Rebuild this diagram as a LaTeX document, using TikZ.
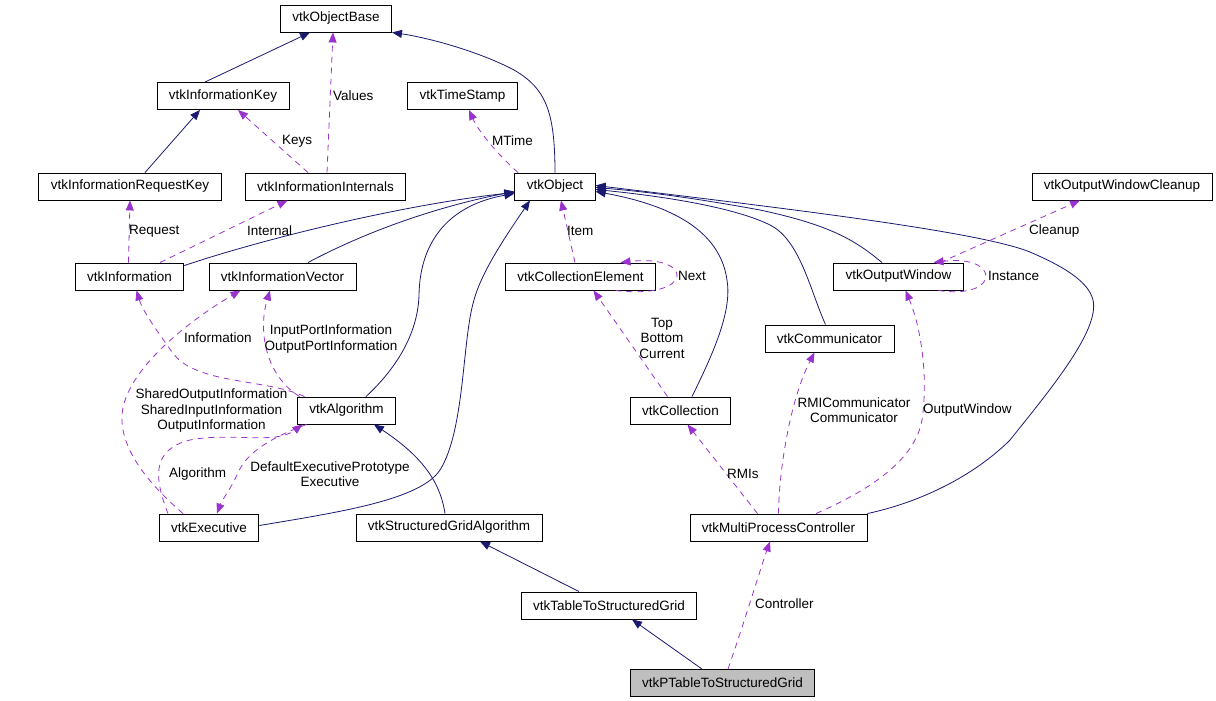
\documentclass[tikz,border=0pt]{standalone}
\usepackage{fontspec}
\setmainfont{Liberation Sans}
\usetikzlibrary{arrows.meta}
\definecolor{inhblue}{HTML}{191970}
\definecolor{usepurple}{HTML}{9A32CD}
\definecolor{selgray}{HTML}{BFBFBF}
\tikzset{class node/.style={rectangle,draw,line width=0.9pt,minimum height=27pt,inner xsep=12pt,inner ysep=0pt,fill=white},
inherit/.style={draw=inhblue,line width=0.8pt,-{Triangle[length=10pt,width=8pt]}},
member/.style={draw=usepurple,line width=0.8pt,dash pattern=on 6pt off 5pt,-{Triangle[length=10pt,width=8pt]}},
label node/.style={align=center,inner sep=0pt},
}

\begin{document}
\begin{tikzpicture}[x=1pt,y=-1pt,font=\fontsize{13.5}{15.5}\selectfont]
	\useasboundingbox (0,0) rectangle (1216,701);
	\node[class node,fill=selgray] (1) at (722.5,683) {vtkPTableToStructuredGrid};
	\node[class node] (2) at (609,605.5) {vtkTableToStructuredGrid};
	\node[class node] (3) at (449,527.5) {vtkStructuredGridAlgorithm};
	\node[class node] (4) at (346.5,410.5) {vtkAlgorithm};
	\node[class node] (5) at (555,186.5) {vtkObject};
	\node[class node] (6) at (336,18.5) {vtkObjectBase};
	\node[class node] (7) at (462.5,96) {vtkTimeStamp};
	\node[class node] (8) at (209,527.5) {vtkExecutive};
	\node[class node] (9) at (282.5,276.5) {vtkInformationVector};
	\node[class node] (10) at (129.5,276.5) {vtkInformation};
	\node[class node] (11) at (130,186.5) {vtkInformationRequestKey};
	\node[class node] (12) at (223,96) {vtkInformationKey};
	\node[class node] (13) at (325.5,186.5) {vtkInformationInternals};
	\node[class node] (14) at (778.5,527.5) {vtkMultiProcessController};
	\node[class node] (15) at (680.5,410.5) {vtkCollection};
	\node[class node] (16) at (580.5,276.5) {vtkCollectionElement};
	\node[class node] (17) at (829.5,338.5) {vtkCommunicator};
	\node[class node] (18) at (898.5,276.5) {vtkOutputWindow};
	\node[class node] (19) at (1122,186.5) {vtkOutputWindowCleanup};

	\draw[inherit] ([xshift=-20.5pt]1.north) -- ([xshift=23pt]2.south);
	\draw[inherit] ([xshift=-30pt]2.north) -- ([xshift=31pt]3.south);
	\draw[inherit] ([xshift=-4pt]3.north) .. controls (440,480) and (420,455) .. ([xshift=27.5pt]4.south);
	\draw[inherit] ([xshift=19.5pt]4.north) .. controls (400,365) and (418,330) .. (419,295) .. controls (420,240) and (450,205) .. ([yshift=-7pt]5.west);
	\draw[inherit] ([yshift=-3pt]10.north east) .. controls (260,240) and (400,205) .. ([yshift=-6pt]5.west);
	\draw[inherit] ([xshift=25.5pt]9.north) .. controls (350,240) and (420,210) .. ([yshift=-5pt]5.west);
	\draw[inherit] ([yshift=2pt]8.east) .. controls (340,512) and (420,500) .. (440,470) .. controls (465,430) and (462,340) .. (474,300) .. controls (482,270) and (510,230) .. ([xshift=-25pt]5.south);
	\draw[inherit] (5.north) .. controls (555,110) and (545,88) .. (514,70) .. controls (480,52) and (430,38) .. (6.south east);
	\draw[inherit] ([xshift=11.5pt]15.north) .. controls (715,350) and (732,310) .. (727,280) .. controls (720,230) and (670,205) .. ([yshift=-5pt]5.east);
	\draw[inherit] ([xshift=-4pt]17.north) .. controls (810,290) and (800,240) .. (770,225) .. controls (740,210) and (680,198) .. ([yshift=-3pt]5.east);
	\draw[inherit] ([xshift=-16.5pt]18.north) .. controls (855,240) and (830,225) .. (760,210) .. controls (700,199) and (650,192) .. ([yshift=-1pt]5.east);
	\draw[inherit] (14.north east) .. controls (930,500) and (980,470) .. (1010,440) .. controls (1050,390) and (1100,330) .. (1093,300) .. controls (1088,280) and (1060,265) .. (1030,252) .. controls (980,232) and (800,210) .. ([yshift=1pt]5.east);
	\draw[inherit] ([xshift=-18pt]12.north) -- ([xshift=-26pt]6.south);
	\draw[inherit] ([xshift=15pt]11.north) -- ([xshift=-23pt]12.south);

	\draw[member] ([xshift=1.5pt]13.north) -- ([xshift=-3pt]6.south);
	\draw[member] ([xshift=-17.5pt]13.north) -- ([xshift=15pt]12.south);
	\draw[member] ([xshift=-37pt]5.north) .. controls (495,152) and (478,130) .. ([xshift=6.5pt]7.south);
	\draw[member] ([xshift=-1pt]10.north) -- (11.south);
	\draw[member] ([xshift=30.5pt]10.north) -- ([xshift=-38pt]13.south);
	\draw[member] ([xshift=-5.5pt]16.north) -- ([xshift=6pt]5.south);
	\draw[member] ([xshift=35pt]16.south) .. controls (695,300) and (695,254) .. ([xshift=40pt]16.north);
	\draw[member] ([xshift=41.5pt]18.north) -- ([xshift=-42pt]19.south);
	\draw[member] ([xshift=40pt]18.south) .. controls (1001,300) and (1001,254) .. ([xshift=35pt]18.north);
	\draw[member] ([xshift=-42pt]4.north) .. controls (265,378) and (195,385) .. (172,352) .. controls (158,332) and (143,312) .. ([xshift=7pt]10.south);
	\draw[member] ([xshift=-47pt]4.north) .. controls (265,375) and (258,330) .. ([xshift=-12.5pt]9.south);
	\draw[member] ([xshift=-26pt]8.north) .. controls (150,485) and (120,450) .. (122,415) .. controls (125,370) and (190,320) .. ([xshift=-42pt]9.south);
	\draw[member] ([xshift=-41pt]8.north) .. controls (155,480) and (150,450) .. (190,440) .. controls (230,432) and (275,445) .. ([xshift=-44pt]4.south);
	\draw[member] ([xshift=-40pt]4.south) .. controls (265,440) and (245,455) .. (237,475) .. controls (230,490) and (222,500) .. ([xshift=8pt]8.north);
	\draw[member] ([xshift=-13pt]15.north) -- ([xshift=13pt]16.south);
	\draw[member] ([xshift=-21pt]14.north) -- ([xshift=7pt]15.south);
	\draw[member] (14.north) .. controls (779,470) and (790,400) .. ([xshift=-15pt]17.south);
	\draw[member] ([xshift=37.5pt]14.north) .. controls (870,490) and (915,460) .. (922,420) .. controls (928,380) and (922,330) .. ([xshift=7pt]18.south);
	\draw[member] ([xshift=5.5pt]1.north) .. controls (745,620) and (760,570) .. ([xshift=-8.5pt]14.south);

	\node[label node,anchor=west] (values) at (333,96) {Values};
	\node[label node,anchor=west] (keys) at (282,141) {Keys};
	\node[label node,anchor=west] (mtime) at (492,141) {MTime};
	\node[label node,anchor=west] (request) at (129,231) {Request};
	\node[label node,anchor=west] (internal) at (247,231) {Internal};
	\node[label node,anchor=west] (item) at (567,231) {Item};
	\node[label node,anchor=west] (next) at (678,276) {Next};
	\node[label node,anchor=west] (cleanup) at (1029,231) {Cleanup};
	\node[label node,anchor=west] (instance) at (988,276) {Instance};
	\node[label node,anchor=west] (information) at (184,338) {Information};
	\node[label node] (portinfo) at (331,339) {InputPortInformation\\OutputPortInformation};
	\node[label node] (sharedinfo) at (211.5,411) {SharedOutputInformation\\SharedInputInformation\\OutputInformation};
	\node[label node,anchor=west] (algorithm) at (169,474) {Algorithm};
	\node[label node] (executive) at (330,474) {DefaultExecutivePrototype\\Executive};
	\node[label node] (topbottom) at (662,338) {Top\\Bottom\\Current};
	\node[label node,anchor=west] (rmis) at (727,474) {RMIs};
	\node[label node] (communicator) at (854,410) {RMICommunicator\\Communicator};
	\node[label node,anchor=west] (outputwindow) at (923,410) {OutputWindow};
	\node[label node,anchor=west] (controller) at (755,604) {Controller};
\end{tikzpicture}
\end{document}
